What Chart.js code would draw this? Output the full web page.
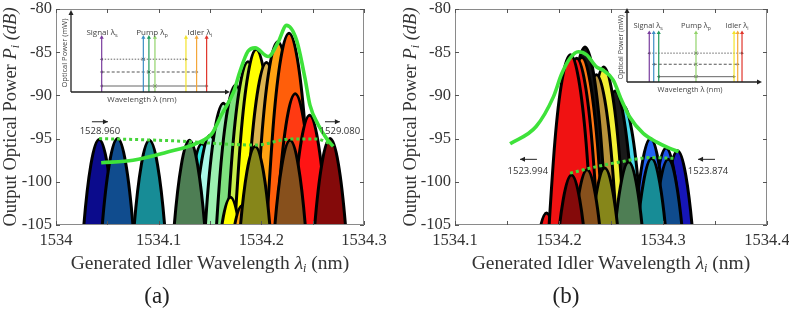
<!DOCTYPE html>
<html>
<head>
<meta charset="utf-8">
<script src="https://cdn.jsdelivr.net/npm/chart.js@4.4.1/dist/chart.umd.min.js"></script>
<style>
body { margin: 0; background: #fff; }
#fig { position: relative; width: 789px; height: 311px; overflow: hidden; font-family: 'Liberation Serif', serif; color: #333; }
canvas { position: absolute; }
.xt { position: absolute; width: 320px; text-align: center; font-size: 19.5px; line-height: 22px; top: 252px; white-space: nowrap; }
.yt { position: absolute; width: 250px; height: 22px; line-height: 22px; text-align: center; font-size: 18.5px; top: 106px; transform: rotate(-90deg); white-space: nowrap; }
.lab { position: absolute; width: 60px; text-align: center; font-size: 23px; line-height: 28px; top: 282px; color: #222; }
sub { font-size: 12px; vertical-align: -3px; line-height: 0; }
</style>
</head>
<body>
<div id="fig">
  <canvas id="cA" width="400" height="311" style="left:0;top:0"></canvas>
  <canvas id="cB" width="389" height="311" style="left:400px;top:0"></canvas>
  <canvas id="iA" width="186" height="110" style="left:56px;top:0"></canvas>
  <canvas id="iB" width="179" height="100" style="left:610px;top:0"></canvas>
  <div class="yt" style="left:-115px">Output Optical Power <i>P<sub>i</sub></i> <i>(dB)</i></div>
  <div class="yt" style="left:285px">Output Optical Power <i>P<sub>i</sub></i> <i>(dB)</i></div>
  <div class="xt" style="left:50px">Generated Idler Wavelength <i>λ<sub>i</sub></i> (nm)</div>
  <div class="xt" style="left:451px">Generated Idler Wavelength <i>λ<sub>i</sub></i> (nm)</div>
  <div class="lab" style="left:127px">(a)</div>
  <div class="lab" style="left:536px">(b)</div>
</div>
<script>
// axes
const yTicks = [-80, -85, -90, -95, -100, -105];
const xTicksA = [1534, 1534.1, 1534.2, 1534.3];
const xMinorA = [1534.05, 1534.15, 1534.25];
const xTicksB = [1534.1, 1534.2, 1534.3, 1534.4];
const xMinorB = [1534.15, 1534.25, 1534.35];

// (a) peaks, back to front
const peakColorsA = ['#2ee6e0', '#aaf8e8', '#9cf0b0', '#7ee07e', '#c6ee4a', '#ffff00', '#dcb450',
  '#ffa212', '#ff5e0a', '#ff3a12', '#ff1414', '#ffff00', '#ffa212',
  '#0b0b8c', '#104c8e', '#178c96', '#4e7e54', '#86861a', '#87501c', '#840a0a'];
const peaksAx = [
  [1534.116, 1534.127, 1534.134, 1534.142, 1534.150, 1534.157, 1534.168],
  [1534.124, 1534.135, 1534.142, 1534.150, 1534.158, 1534.165, 1534.176],
  [1534.137, 1534.148, 1534.155, 1534.163, 1534.171, 1534.178, 1534.189],
  [1534.149, 1534.160, 1534.167, 1534.175, 1534.183, 1534.190, 1534.201],
  [1534.161, 1534.172, 1534.179, 1534.187, 1534.195, 1534.202, 1534.213],
  [1534.169, 1534.180, 1534.187, 1534.195, 1534.203, 1534.210, 1534.221],
  [1534.179, 1534.190, 1534.197, 1534.205, 1534.213, 1534.220, 1534.231],
  [1534.190, 1534.201, 1534.208, 1534.216, 1534.224, 1534.231, 1534.242],
  [1534.201, 1534.212, 1534.219, 1534.227, 1534.235, 1534.242, 1534.253],
  [1534.207, 1534.218, 1534.225, 1534.233, 1534.241, 1534.248, 1534.259],
  [1534.221, 1534.232, 1534.239, 1534.247, 1534.255, 1534.262, 1534.273],
  [1534.144, 1534.155, 1534.162, 1534.170, 1534.178, 1534.185, 1534.196],
  [1534.155, 1534.166, 1534.173, 1534.181, 1534.189, 1534.196, 1534.207],
  [1534.016, 1534.027, 1534.034, 1534.042, 1534.050, 1534.057, 1534.068],
  [1534.034, 1534.045, 1534.052, 1534.060, 1534.068, 1534.075, 1534.086],
  [1534.065, 1534.076, 1534.083, 1534.091, 1534.099, 1534.106, 1534.117],
  [1534.104, 1534.115, 1534.122, 1534.130, 1534.138, 1534.145, 1534.156],
  [1534.168, 1534.179, 1534.186, 1534.194, 1534.202, 1534.209, 1534.220],
  [1534.202, 1534.213, 1534.220, 1534.228, 1534.236, 1534.243, 1534.254],
  [1534.241, 1534.252, 1534.259, 1534.267, 1534.275, 1534.282, 1534.293]
];
const peaksAy = [
  [-126.0, -105.7, -98.5, -95.6, -98.5, -105.7, -126.0],
  [-125.0, -104.7, -97.5, -94.6, -97.5, -104.7, -125.0],
  [-121.3, -101.0, -93.8, -90.9, -93.8, -101.0, -121.3],
  [-119.2, -98.9, -91.7, -88.8, -91.7, -98.9, -119.2],
  [-116.5, -96.2, -89.0, -86.1, -89.0, -96.2, -116.5],
  [-115.1, -94.8, -87.6, -84.7, -87.6, -94.8, -115.1],
  [-116.6, -96.3, -89.1, -86.2, -89.1, -96.3, -116.6],
  [-114.2, -93.9, -86.7, -83.8, -86.7, -93.9, -114.2],
  [-113.2, -92.9, -85.7, -82.8, -85.7, -92.9, -113.2],
  [-120.2, -99.9, -92.7, -89.8, -92.7, -99.9, -120.2],
  [-122.7, -102.4, -95.2, -92.3, -95.2, -102.4, -122.7],
  [-132.2, -111.9, -104.7, -101.8, -104.7, -111.9, -132.2],
  [-133.2, -112.9, -105.7, -102.8, -105.7, -112.9, -133.2],
  [-125.5, -105.2, -98.0, -95.1, -98.0, -105.2, -125.5],
  [-125.4, -105.1, -97.9, -95.0, -97.9, -105.1, -125.4],
  [-125.6, -105.3, -98.1, -95.2, -98.1, -105.3, -125.6],
  [-125.6, -105.3, -98.1, -95.2, -98.1, -105.3, -125.6],
  [-126.3, -106.0, -98.8, -95.9, -98.8, -106.0, -126.3],
  [-125.6, -105.3, -98.1, -95.2, -98.1, -105.3, -125.6],
  [-125.4, -105.1, -97.9, -95.0, -97.9, -105.1, -125.4]
];
const greenA = [[1534.044, -97.8], [1534.075, -97.5], [1534.107, -96.6], [1534.138, -95.5], [1534.152, -94.4],
  [1534.161, -92.3], [1534.173, -89.6], [1534.179, -87.3], [1534.187, -84.9], [1534.194, -84.5],
  [1534.2067, -85.5], [1534.2165, -83.8], [1534.2245, -81.9], [1534.2343, -83.6], [1534.2425, -88.0],
  [1534.2473, -91.1], [1534.2554, -93.4], [1534.2636, -95.0], [1534.27, -95.9]];
const dotA = [[1534.042, -95.0], [1534.09, -95.15], [1534.13, -95.35], [1534.16, -95.6], [1534.195, -95.75],
  [1534.228, -95.05], [1534.254, -95.05], [1534.267, -95.6]];
const noteTextA = ['1528.960', '1529.080'];
const noteXA = [1534.0428, 1534.2765];
const noteYA = [-94.2, -94.2];
const noteArrowA = [[1534.035, 1534.0506, -93.05], [1534.262, 1534.2765, -93.05]];

// (b) peaks, back to front
const peakColorsB = ['#1616b8', '#1e52ea', '#2262f2', '#4ad8ec', '#1a1a1a', '#f2f034', '#b8923a',
  '#141414', '#ff7614', '#f41616', '#f01212', '#f01212',
  '#0f4b8d', '#178c96', '#4e7e54', '#86861a', '#87501c', '#840a0a'];
const peaksBx = [
  [1534.288, 1534.299, 1534.306, 1534.314, 1534.322, 1534.329, 1534.340],
  [1534.277, 1534.288, 1534.295, 1534.303, 1534.311, 1534.318, 1534.329],
  [1534.262, 1534.273, 1534.280, 1534.288, 1534.296, 1534.303, 1534.314],
  [1534.236, 1534.247, 1534.254, 1534.262, 1534.270, 1534.277, 1534.288],
  [1534.228, 1534.239, 1534.246, 1534.254, 1534.262, 1534.269, 1534.280],
  [1534.217, 1534.228, 1534.235, 1534.243, 1534.251, 1534.258, 1534.269],
  [1534.210, 1534.221, 1534.228, 1534.236, 1534.244, 1534.251, 1534.262],
  [1534.199, 1534.210, 1534.217, 1534.225, 1534.233, 1534.240, 1534.251],
  [1534.196, 1534.207, 1534.214, 1534.222, 1534.230, 1534.237, 1534.248],
  [1534.191, 1534.202, 1534.209, 1534.217, 1534.225, 1534.232, 1534.243],
  [1534.162, 1534.173, 1534.180, 1534.188, 1534.196, 1534.203, 1534.214],
  [1534.185, 1534.196, 1534.203, 1534.211, 1534.219, 1534.226, 1534.237],
  [1534.279, 1534.290, 1534.297, 1534.305, 1534.313, 1534.320, 1534.331],
  [1534.263, 1534.274, 1534.281, 1534.289, 1534.297, 1534.304, 1534.315],
  [1534.241, 1534.252, 1534.259, 1534.267, 1534.275, 1534.282, 1534.293],
  [1534.218, 1534.229, 1534.236, 1534.244, 1534.252, 1534.259, 1534.270],
  [1534.201, 1534.212, 1534.219, 1534.227, 1534.235, 1534.242, 1534.253],
  [1534.186, 1534.197, 1534.204, 1534.212, 1534.220, 1534.227, 1534.238]
];
const peaksBy = [
  [-126.8, -106.5, -99.3, -96.4, -99.3, -106.5, -126.8],
  [-126.5, -106.2, -99.0, -96.1, -99.0, -106.2, -126.5],
  [-125.4, -105.1, -97.9, -95.0, -97.9, -105.1, -125.4],
  [-121.6, -101.3, -94.1, -91.2, -94.1, -101.3, -121.6],
  [-119.9, -99.6, -92.4, -89.5, -92.4, -99.6, -119.9],
  [-117.1, -96.8, -89.6, -86.7, -89.6, -96.8, -117.1],
  [-118.0, -97.7, -90.5, -87.6, -90.5, -97.7, -118.0],
  [-114.8, -94.5, -87.3, -84.4, -87.3, -94.5, -114.8],
  [-116.0, -95.7, -88.5, -85.6, -88.5, -95.7, -116.0],
  [-116.1, -95.8, -88.6, -85.7, -88.6, -95.8, -116.1],
  [-134.0, -113.7, -106.5, -103.6, -106.5, -113.7, -134.0],
  [-115.7, -95.4, -88.2, -85.3, -88.2, -95.4, -115.7],
  [-127.8, -107.5, -100.3, -97.4, -100.3, -107.5, -127.8],
  [-127.7, -107.4, -100.2, -97.3, -100.2, -107.4, -127.7],
  [-128.1, -107.8, -100.6, -97.7, -100.6, -107.8, -128.1],
  [-128.8, -108.5, -101.3, -98.4, -101.3, -108.5, -128.8],
  [-129.0, -108.7, -101.5, -98.6, -101.5, -108.7, -129.0],
  [-129.6, -109.3, -102.1, -99.2, -102.1, -109.3, -129.6]
];
const greenB = [[1534.153, -95.6], [1534.178, -93.6], [1534.1945, -90.2], [1534.2026, -87.5], [1534.2106, -85.7],
  [1534.2186, -84.95], [1534.2266, -85.3], [1534.236, -86.7], [1534.2426, -87.1], [1534.252, -88.2],
  [1534.26, -90.5], [1534.268, -92.5], [1534.281, -94.4], [1534.294, -95.4], [1534.306, -96.1], [1534.315, -96.5]];
const dotB = [[1534.2106, -99.0], [1534.236, -98.25], [1534.2587, -97.7], [1534.2875, -97.2], [1534.313, -97.3]];
const noteTextB = ['1523.994', '1523.874'];
const noteXB = [1534.170, 1534.3433];
const noteYB = [-98.83, -98.83];
const noteArrowB = [[1534.1788, 1534.1625, -97.4], [1534.35, 1534.3337, -97.4]];

// insets (schematic units: x 0..100, y 0..1)
const insetColors = ['#7a3d9e', '#3d8fc6', '#1f9b5c', '#92d36b', '#f3e32a', '#f4a73a', '#e0352b'];
const insetLinesA = [19.3, 45.5, 49.0, 52.8, 72.3, 79.0, 85.3];
const insetLinesB = [16.5, 19.8, 23.5, 51.1, 79.3, 82.0, 85.2];
const insetTop = 0.665;
const insetArrowsA = [[19.3, 72.3, 0.40], [19.3, 79.0, 0.244], [19.3, 85.3, 0.073]];
const insetArrowsB = [[16.5, 85.2, 0.39], [19.8, 82.0, 0.24], [23.5, 79.3, 0.072]];
const insetMarksA = [45.5, 49.0, 52.8];
const insetMarksB = [51.1, 51.1, 51.1];
const insetDash = [[1.5, 1.5], [3, 2], []];
const insetLabels = ['Signal λ', 'Pump λ', 'Idler λ'];
const insetSubs = ['s', 'p', 'i'];
const insetLabelXA = [19.5, 51, 81];
const insetLabelXB = [15.6, 51.1, 81.5];

const serif = "'Liberation Serif', serif";
const sans = "'Open Sans', sans-serif";

const framePlugin = {
  id: 'frame',
  afterDraw(chart, args, o) {
    const { ctx, chartArea: a, scales: { x, y } } = chart;
    ctx.save();
    ctx.strokeStyle = '#8a8a8a';
    ctx.lineWidth = 1;
    ctx.strokeRect(a.left + 0.5, a.top + 0.5, a.width - 1, a.height - 1);
    ctx.strokeStyle = '#555';
    ctx.beginPath();
    o.xs.forEach(v => {
      const px = Math.round(x.getPixelForValue(v)) + 0.5;
      ctx.moveTo(px, a.bottom); ctx.lineTo(px, a.bottom - 4);
      ctx.moveTo(px, a.top); ctx.lineTo(px, a.top + 4);
    });
    yTicks.forEach(v => {
      const py = Math.round(y.getPixelForValue(v)) + 0.5;
      ctx.moveTo(a.left, py); ctx.lineTo(a.left + 4, py);
      ctx.moveTo(a.right, py); ctx.lineTo(a.right - 4, py);
    });
    ctx.stroke();
    ctx.restore();
  }
};

function arrowHead(ctx, x, y, dir, s) {
  ctx.beginPath();
  if (dir === 'right') { ctx.moveTo(x, y); ctx.lineTo(x - s, y - s / 2); ctx.lineTo(x - s, y + s / 2); }
  else if (dir === 'left') { ctx.moveTo(x, y); ctx.lineTo(x + s, y - s / 2); ctx.lineTo(x + s, y + s / 2); }
  else { ctx.moveTo(x, y); ctx.lineTo(x - s / 2, y + s); ctx.lineTo(x + s / 2, y + s); }
  ctx.closePath();
  ctx.fill();
}

const notesPlugin = {
  id: 'notes',
  afterDatasetsDraw(chart, args, o) {
    const { ctx, scales: { x, y } } = chart;
    ctx.save();
    ctx.fillStyle = '#333';
    ctx.font = '9.5px ' + sans;
    ctx.textAlign = 'center';
    ctx.textBaseline = 'middle';
    o.text.forEach((t, i) => ctx.fillText(t, x.getPixelForValue(o.x[i]), y.getPixelForValue(o.y[i])));
    ctx.strokeStyle = '#222';
    ctx.fillStyle = '#222';
    ctx.lineWidth = 1;
    o.arrows.forEach(a => {
      const x0 = x.getPixelForValue(a[0]), x1 = x.getPixelForValue(a[1]), py = y.getPixelForValue(a[2]);
      ctx.beginPath(); ctx.moveTo(x0, py); ctx.lineTo(x1, py); ctx.stroke();
      arrowHead(ctx, x1, py, x1 > x0 ? 'right' : 'left', 5);
    });
    ctx.restore();
  }
};

const insetPlugin = {
  id: 'inset',
  afterDraw(chart, args, o) {
    const { ctx, chartArea: a, scales: { x, y } } = chart;
    ctx.save();
    ctx.strokeStyle = '#222';
    ctx.fillStyle = '#222';
    ctx.lineWidth = 1.3;
    ctx.beginPath();
    ctx.moveTo(a.left, a.bottom); ctx.lineTo(a.left, a.top + 3);
    ctx.moveTo(a.left, a.bottom); ctx.lineTo(a.right - 3, a.bottom);
    ctx.stroke();
    arrowHead(ctx, a.left, a.top, 'up', 5);
    arrowHead(ctx, a.right, a.bottom, 'right', 5);
    ctx.fillStyle = '#444';
    ctx.textBaseline = 'middle';
    ctx.textAlign = 'left';
    o.labels.forEach((t, i) => {
      ctx.font = o.fs + 'px ' + sans;
      const w = ctx.measureText(t).width;
      ctx.font = (o.fs * 0.7) + 'px ' + sans;
      const ws = ctx.measureText(o.subs[i]).width;
      const start = x.getPixelForValue(o.lx[i]) - (w + ws) / 2;
      const py = y.getPixelForValue(o.ly);
      ctx.font = o.fs + 'px ' + sans;
      ctx.fillText(t, start, py);
      ctx.font = (o.fs * 0.7) + 'px ' + sans;
      ctx.fillText(o.subs[i], start + w, py + o.fs * 0.3);
    });
    ctx.textAlign = 'center';
    ctx.font = o.fs + 'px ' + sans;
    ctx.fillText('Wavelength λ (nm)', x.getPixelForValue(o.xtx), a.bottom + 8);
    ctx.font = o.yfs + 'px ' + sans;
    ctx.translate(a.left - 6, (a.top + a.bottom) / 2 + 2);
    ctx.rotate(-Math.PI / 2);
    ctx.fillText('Optical Power (mW)', 0, 0);
    ctx.restore();
  }
};

function peakSets(xs, ys, colors) {
  const n = xs.length;
  return xs.map((px, i) => ({
    data: px.map((v, j) => ({ x: v, y: ys[i][j] })),
    backgroundColor: colors[i],
    borderColor: '#000',
    borderWidth: 3,
    fill: 'start',
    pointRadius: 0,
    cubicInterpolationMode: 'monotone',
    clip: 0,
    order: 10 + n - i
  }));
}

function curveSet(pts, dashed) {
  return {
    data: pts.map(p => ({ x: p[0], y: p[1] })),
    borderColor: dashed ? '#46d43a' : '#3ee23a',
    borderWidth: dashed ? 3 : 3.6,
    borderDash: dashed ? [3, 3] : [],
    fill: false,
    pointRadius: 0,
    cubicInterpolationMode: 'monotone',
    clip: 0,
    order: dashed ? 1 : 0
  };
}

function mainChart(id, xs, ys, colors, green, dot, xTicks, xMinor, yWidth, padRight, notes) {
  new Chart(document.getElementById(id), {
    type: 'line',
    data: { datasets: peakSets(xs, ys, colors).concat([curveSet(dot, true), curveSet(green, false)]) },
    options: {
      responsive: false,
      animation: false,
      devicePixelRatio: 1,
      layout: { padding: { left: 0, right: padRight, top: 9, bottom: 0 } },
      plugins: {
        legend: { display: false },
        tooltip: { enabled: false },
        frame: { xs: xTicks.concat(xMinor) },
        notes: notes
      },
      scales: {
        x: {
          type: 'linear',
          min: xTicks[0], max: xTicks[xTicks.length - 1],
          afterBuildTicks: s => { s.ticks = xTicks.map(v => ({ value: v })); },
          afterFit: s => { s.height = 86; s.paddingLeft = 0; s.paddingRight = 0; },
          grid: { display: false, drawTicks: false },
          border: { display: false },
          ticks: { autoSkip: false, maxRotation: 0, padding: 6, color: '#333', font: { family: serif, size: 16.5 }, callback: v => String(v) }
        },
        y: {
          min: -105, max: -80,
          afterBuildTicks: s => { s.ticks = yTicks.map(v => ({ value: v })); },
          afterFit: s => { s.width = yWidth; s.paddingTop = 0; s.paddingBottom = 0; },
          grid: { display: false, drawTicks: false },
          border: { display: false },
          ticks: { autoSkip: false, padding: 4, color: '#333', font: { family: serif, size: 16.5 }, callback: v => String(v) }
        }
      }
    },
    plugins: [framePlugin, notesPlugin]
  });
}

function insetSets(lines, arrows, marks) {
  const sets = [];
  lines.forEach((lx, i) => sets.push({
    data: [{ x: lx, y: 0 }, { x: lx, y: insetTop }],
    borderColor: insetColors[i], borderWidth: 1.2,
    pointRadius: [0, 2.4], pointStyle: 'triangle',
    pointBackgroundColor: insetColors[i], pointBorderWidth: 0
  }));
  arrows.forEach((ar, i) => {
    sets.push({
      data: [{ x: ar[0], y: ar[2] }, { x: ar[1], y: ar[2] }],
      borderColor: '#555', borderWidth: i === 1 ? 1.1 : 0.9, borderDash: insetDash[i],
      pointRadius: 1.8, pointStyle: 'triangle', pointRotation: [-90, 90],
      pointBackgroundColor: '#444', pointBorderWidth: 0
    });
    sets.push({
      data: [{ x: marks[i], y: ar[2] }], showLine: false,
      pointRadius: 2, pointStyle: 'crossRot', pointBorderColor: '#444', pointBorderWidth: 1
    });
  });
  return sets;
}

function insetChart(id, lines, arrows, marks, pad, opts) {
  new Chart(document.getElementById(id), {
    type: 'line',
    data: { datasets: insetSets(lines, arrows, marks) },
    options: {
      responsive: false,
      animation: false,
      devicePixelRatio: 1,
      layout: { padding: pad },
      plugins: { legend: { display: false }, tooltip: { enabled: false }, inset: opts },
      scales: {
        x: { type: 'linear', min: 0, max: 100, display: false },
        y: { min: 0, max: 1, display: false }
      }
    },
    plugins: [insetPlugin]
  });
}

mainChart('cA', peaksAx, peaksAy, peakColorsA, greenA, dotA, xTicksA, xMinorA, 56, 36,
  { text: noteTextA, x: noteXA, y: noteYA, arrows: noteArrowA });
mainChart('cB', peaksBx, peaksBy, peakColorsB, greenB, dotB, xTicksB, xMinorB, 55, 22,
  { text: noteTextB, x: noteXB, y: noteYB, arrows: noteArrowB });

insetChart('iA', insetLinesA, insetArrowsA, insetMarksA, { left: 15, right: 12, top: 10, bottom: 18 },
  { labels: insetLabels, subs: insetSubs, lx: insetLabelXA, ly: 0.72, fs: 8, yfs: 7.5, xtx: 44.6 });
insetChart('iB', insetLinesB, insetArrowsB, insetMarksB, { left: 17, right: 27, top: 8, bottom: 18 },
  { labels: insetLabels, subs: insetSubs, lx: insetLabelXB, ly: 0.76, fs: 7.5, yfs: 7, xtx: 46.7 });
</script>
</body>
</html>
